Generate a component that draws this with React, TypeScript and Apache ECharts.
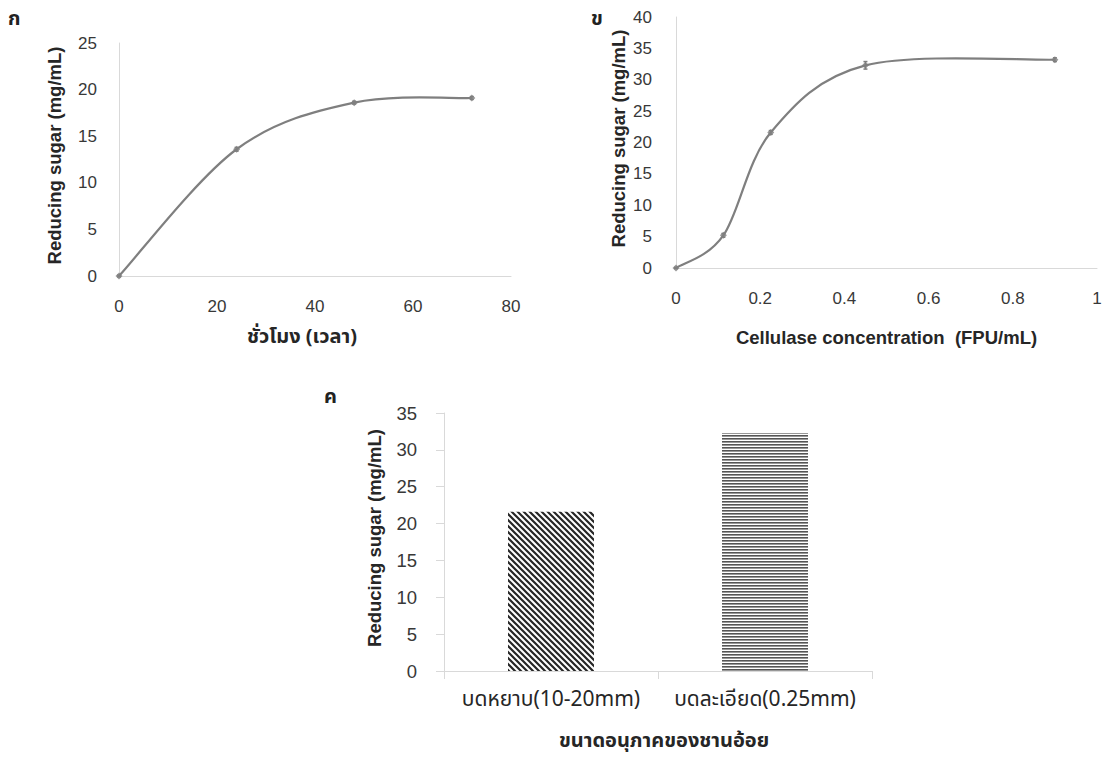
import React, { useEffect, useRef } from "react";
import * as echarts from "echarts";

// ---- data ----
const hoursX = [0, 24, 48, 72];
const hoursY = [0, 13.6, 18.6, 19.1];
const hoursErr = [0.1, 0.2, 0.15, 0.15];

const enzymeX = [0, 0.1125, 0.225, 0.45, 0.9];
const enzymeY = [0, 5.2, 21.6, 32.3, 33.2];
const enzymeErr = [0.1, 0.3, 0.3, 0.6, 0.3];

const sizeCategories = ["บดหยาบ(10-20mm)", "บดละเอียด(0.25mm)"];
const sizeValues = [21.6, 32.3];

const panelLabels = ["ก", "ข", "ค"];
const yName = "Reducing sugar (mg/mL)";
const xNameA = "ชั่วโมง (เวลา)";
const xNameB = "Cellulase concentration  (FPU/mL)";
const xNameC = "ขนาดอนุภาคของชานอ้อย";

const FONT = "'Liberation Sans', Arial, sans-serif";
const THAI = "'Noto Sans Thai', 'Noto Sans', 'DejaVu Sans', sans-serif";
const AXIS_GRAY = "#d9d9d9";
const LABEL = "#383838";
const NAME = "#262626";
const LINE = "#7f7f7f";

function makePattern(kind: "diag" | "horiz") {
  const c = document.createElement("canvas");
  const ctx = c.getContext("2d")!;
  if (kind === "diag") {
    const s = 6;
    c.width = s;
    c.height = s;
    ctx.fillStyle = "#ffffff";
    ctx.fillRect(0, 0, s, s);
    ctx.strokeStyle = "#262626";
    ctx.lineWidth = 2.2;
    ctx.beginPath();
    ctx.moveTo(0, 0);
    ctx.lineTo(s, s);
    ctx.moveTo(-s / 2, s / 2);
    ctx.lineTo(s / 2, s * 1.5);
    ctx.moveTo(s / 2, -s / 2);
    ctx.lineTo(s * 1.5, s / 2);
    ctx.stroke();
  } else {
    c.width = 6;
    c.height = 3;
    ctx.fillStyle = "#ffffff";
    ctx.fillRect(0, 0, 6, 3);
    ctx.fillStyle = "#555555";
    ctx.fillRect(0, 0, 6, 1.6);
  }
  return { image: c, repeat: "repeat" as const };
}

// Excel-style smoothed line: each item draws the cubic segment to the next point
function smoothSeries(xs: number[], ys: number[], idx: number) {
  return {
    type: "custom",
    xAxisIndex: idx,
    yAxisIndex: idx,
    silent: true,
    z: 2,
    data: xs.map((x, i) => [x, ys[i]]),
    renderItem: (params: any, api: any) => {
      const i = params.dataIndex;
      const n = xs.length;
      if (i >= n - 1) return null;
      const P = (k: number) => {
        const kk = Math.max(0, Math.min(n - 1, k));
        return api.coord([xs[kk], ys[kk]]);
      };
      const p0 = P(i - 1);
      const p1 = P(i);
      const p2 = P(i + 1);
      const p3 = P(i + 2);
      const t = 1 / 6;
      return {
        type: "bezierCurve",
        shape: {
          x1: p1[0],
          y1: p1[1],
          x2: p2[0],
          y2: p2[1],
          cpx1: p1[0] + (p2[0] - p0[0]) * t,
          cpy1: p1[1] + (p2[1] - p0[1]) * t,
          cpx2: p2[0] - (p3[0] - p1[0]) * t,
          cpy2: p2[1] - (p3[1] - p1[1]) * t,
        },
        style: { stroke: LINE, lineWidth: 2.2, fill: null },
      };
    },
  };
}

function errorSeries(xs: number[], ys: number[], errs: number[], idx: number) {
  return {
    type: "custom",
    xAxisIndex: idx,
    yAxisIndex: idx,
    silent: true,
    z: 3,
    data: xs.map((x, i) => [x, ys[i], errs[i]]),
    renderItem: (params: any, api: any) => {
      const x = api.value(0);
      const y = api.value(1);
      const e = api.value(2);
      const top = api.coord([x, y + e]);
      const bot = api.coord([x, y - e]);
      const style = { stroke: LINE, lineWidth: 1.5 };
      return {
        type: "group",
        children: [
          { type: "line", shape: { x1: top[0], y1: top[1], x2: bot[0], y2: bot[1] }, style },
          { type: "line", shape: { x1: top[0] - 2, y1: top[1], x2: top[0] + 2, y2: top[1] }, style },
          { type: "line", shape: { x1: bot[0] - 2, y1: bot[1], x2: bot[0] + 2, y2: bot[1] }, style },
        ],
      };
    },
  };
}

function markerSeries(xs: number[], ys: number[], idx: number) {
  return {
    type: "scatter",
    xAxisIndex: idx,
    yAxisIndex: idx,
    data: xs.map((x, i) => [x, ys[i]]),
    symbol: "diamond",
    symbolSize: 7,
    itemStyle: { color: LINE },
    z: 4,
  };
}

export default function App() {
  const ref = useRef<HTMLDivElement>(null);

  useEffect(() => {
    const chart = echarts.init(ref.current!, null, { renderer: "svg" });

    const valueX = (idx: number, min: number, max: number, interval: number, name: string, gap: number, margin: number, font: string, size: number, pad: number[]) => ({
      type: "value",
      gridIndex: idx,
      min,
      max,
      interval,
      name,
      nameLocation: "middle",
      nameGap: gap,
      nameTextStyle: { fontFamily: font, fontWeight: "bold", fontSize: size, color: NAME, padding: pad },
      axisLine: { show: true, onZero: false, lineStyle: { color: AXIS_GRAY, width: 1 } },
      axisTick: { show: false },
      splitLine: { show: false },
      axisLabel: { fontFamily: FONT, fontSize: 17, color: LABEL, margin },
    });

    const valueY = (idx: number, max: number, interval: number, gap: number, margin: number, fontSize: number, ticks: boolean) => ({
      type: "value",
      gridIndex: idx,
      min: 0,
      max,
      interval,
      name: yName,
      nameLocation: "middle",
      nameGap: gap,
      nameTextStyle: { fontFamily: FONT, fontWeight: "bold", fontSize: 18.5, color: NAME, padding: [0, 0, 0, 8] },
      axisLine: { show: true, lineStyle: { color: AXIS_GRAY, width: 1 } },
      axisTick: { show: ticks, length: 8, lineStyle: { color: AXIS_GRAY } },
      splitLine: { show: false },
      axisLabel: { fontFamily: FONT, fontSize, color: LABEL, margin },
    });

    const option: any = {
      animation: false,
      backgroundColor: "#ffffff",
      grid: [
        { left: 119, top: 43, width: 392, height: 233 },
        { left: 676, top: 17, width: 421, height: 251 },
        { left: 444, top: 413, width: 428, height: 258 },
      ],
      xAxis: [
        valueX(0, 0, 80, 20, xNameA, 51, 22, THAI, 20, [0, 26, 0, 0]),
        valueX(1, 0, 1, 0.2, xNameB, 60, 22, FONT, 18.5, [0, 0, 0, 0]),
        {
          type: "category",
          gridIndex: 2,
          data: sizeCategories,
          name: xNameC,
          nameLocation: "middle",
          nameGap: 60,
          nameTextStyle: { fontFamily: THAI, fontWeight: "bold", fontSize: 20, color: NAME, padding: [0, 0, 0, 12] },
          axisLine: { show: true, lineStyle: { color: AXIS_GRAY, width: 1 } },
          axisTick: { show: true, length: 8, lineStyle: { color: AXIS_GRAY } },
          axisLabel: { fontFamily: THAI, fontSize: 21, color: "#262626", margin: 18, interval: 0, hideOverlap: false },
        },
      ],
      yAxis: [
        valueY(0, 25, 5, 55, 22, 17, false),
        valueY(1, 40, 5, 48, 24, 17, false),
        valueY(2, 35, 5, 60, 27, 18.5, true),
      ],
      graphic: [
        { type: "text", left: 8, top: 9, style: { text: panelLabels[0], font: `bold 20px ${THAI}`, fill: "#222" } },
        { type: "text", left: 591, top: 9, style: { text: panelLabels[1], font: `bold 20px ${THAI}`, fill: "#222" } },
        { type: "text", left: 324, top: 387, style: { text: panelLabels[2], font: `bold 20px ${THAI}`, fill: "#222" } },
      ],
      series: [
        smoothSeries(hoursX, hoursY, 0),
        errorSeries(hoursX, hoursY, hoursErr, 0),
        markerSeries(hoursX, hoursY, 0),
        smoothSeries(enzymeX, enzymeY, 1),
        errorSeries(enzymeX, enzymeY, enzymeErr, 1),
        markerSeries(enzymeX, enzymeY, 1),
        {
          type: "bar",
          xAxisIndex: 2,
          yAxisIndex: 2,
          barWidth: 86,
          data: sizeValues.map((v, i) => ({
            value: v,
            itemStyle: { color: makePattern(i === 0 ? "diag" : "horiz") },
          })),
        },
      ],
    };

    chart.setOption(option);
    return () => chart.dispose();
  }, []);

  return (
    <div
      ref={ref}
      style={{ position: "absolute", left: 0, top: 0, width: 1105, height: 760, background: "#fff" }}
    />
  );
}
